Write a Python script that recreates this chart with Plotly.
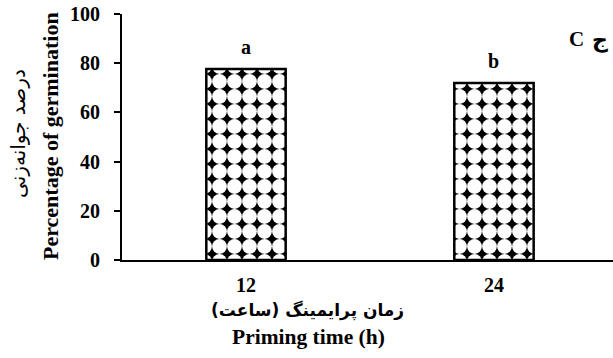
import plotly.graph_objects as go

categories = ["12", "24"]
germination = [77.6, 72.0]
letters = ["a", "b"]
y_ticks = [0, 20, 40, 60, 80, 100]

SERIF = "Liberation Serif, Times New Roman, serif"
AR = "DejaVu Sans, Noto Sans, sans-serif"

fig = go.Figure()
fig.add_trace(go.Bar(
    x=categories,
    y=germination,
    width=0.32,
    marker=dict(
        color="black",
        line=dict(color="black", width=2.5),
        pattern=dict(shape=".", fgcolor="white", bgcolor="black",
                     size=15, solidity=0.76, fillmode="replace"),
    ),
    showlegend=False,
    hoverinfo="skip",
))

for i, (v, t) in enumerate(zip(germination, letters)):
    fig.add_annotation(x=i, y=v, xref="x", yref="y", text="<b>%s</b>" % t, showarrow=False,
                       xanchor="center", yanchor="middle",
                       yshift=22, font=dict(family=SERIF, size=20, color="black"))

def note(text, xs, ys, size, family, angle=0):
    fig.add_annotation(xref="paper", yref="paper", x=0, y=0,
                       xshift=xs - 122, yshift=260 - ys,
                       xanchor="center", yanchor="middle", textangle=angle,
                       text=text, showarrow=False,
                       font=dict(family=family, size=size, color="black"))

note("<b>زمان پرایمینگ (ساعت)</b>", 307, 310, 17, AR)
note("<b>Priming time (h)</b>", 308, 337, 21.5, SERIF)
note("<b>Percentage of germination</b>", 50, 136, 22, SERIF, -90)
note("درصد جوانه‌زنی", 18, 134, 20, AR, -90)
note("<b>C</b>", 576, 39, 21, SERIF)
note("<b>ج</b>", 600, 40, 22, AR)

fig.update_layout(
    width=613, height=358,
    margin=dict(l=122, r=0, t=14, b=98),
    paper_bgcolor="white", plot_bgcolor="white",
    xaxis=dict(range=[-0.5, 1.48], showline=True, linecolor="black", linewidth=2,
               ticks="", showgrid=False, zeroline=False, ticklabelstandoff=6,
               tickfont=dict(family=SERIF, size=20, color="black", weight="bold")),
    yaxis=dict(range=[0, 100], tickvals=y_ticks, showline=True, linecolor="black",
               linewidth=2, ticks="outside", ticklen=6, tickwidth=2, tickcolor="black",
               showgrid=False, zeroline=False, ticklabelstandoff=10,
               tickfont=dict(family=SERIF, size=20, color="black", weight="bold")),
)

fig.write_html("out.html", config={"displayModeBar": False},
               post_script="document.body.style.margin='0';document.body.style.overflow='hidden';")
